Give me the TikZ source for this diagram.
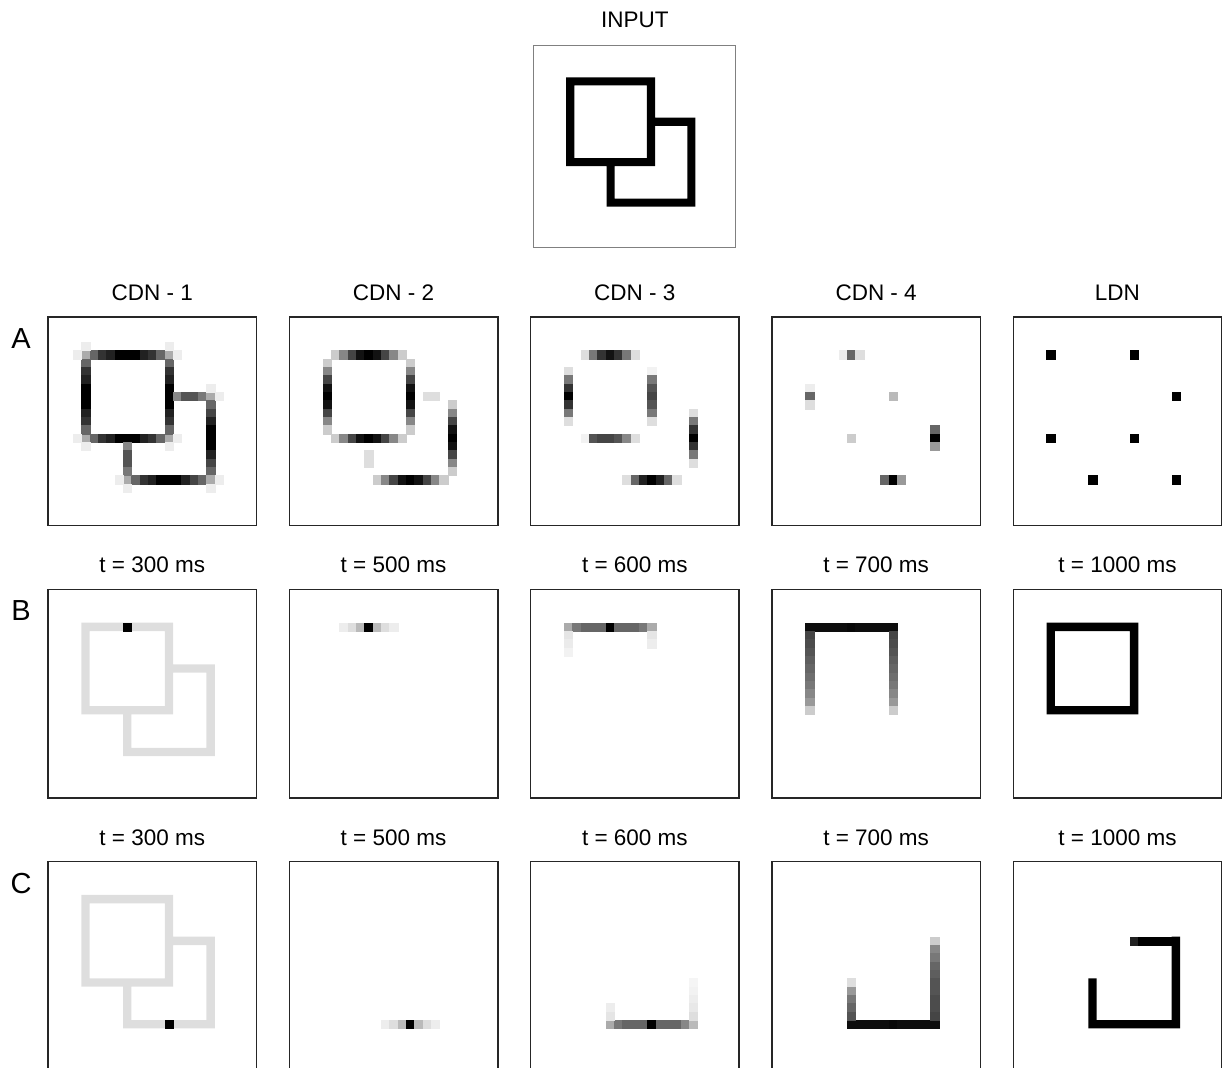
\documentclass[tikz,border=0pt]{standalone}
\usepackage{fontspec}
\setmainfont{Liberation Sans}
\usetikzlibrary{positioning, calc}
\newcommand{\cs}{0.1668cm}
\tikzset{
    panel/.style={rectangle, draw=black!85, line width=0.8pt, minimum size=4.17cm,
                  inner sep=0pt, outer sep=0pt},
    inpanel/.style={rectangle, draw=black!50, line width=0.5pt, minimum size=4.04cm,
                    inner sep=0pt, outer sep=0pt},
    cells/.style={shift={(#1.north west)}, x=\cs, y=-\cs},
    incells/.style={shift={(#1.north west)}, x=0.1616cm, y=-0.1616cm},
    pix/.style={fill=black!#1, draw=black!#1, line width=0.1pt},
    lbl/.style={font=\fontsize{12.8}{14}\selectfont, inner sep=0pt},
    rowlbl/.style={font=\fontsize{16.5}{18}\selectfont, inner sep=0pt},
}
% one cell, a run of cells along a row, a run of cells down a column
\newcommand{\pixel}[3]{\fill[pix=#3] (#1,#2) rectangle ++(1,1);}
\newcommand{\hrun}[3]{\foreach \k [count=\i from 0] in {#3} {\fill[pix=\k] ({#2+\i},#1) rectangle ++(1,1);}}
\newcommand{\vrun}[3]{\foreach \k [count=\i from 0] in {#3} {\fill[pix=\k] (#1,{#2+\i}) rectangle ++(1,1);}}
% the two squares of the input, as far as they show
\newcommand{\twosq}[1]{\fill[#1] (4,4) rectangle (15,5) (4,14) rectangle (15,15)
    (4,5) rectangle (5,14) (14,5) rectangle (15,14)
    (15,9) rectangle (20,10) (19,10) rectangle (20,20)
    (9,19) rectangle (19,20) (9,15) rectangle (10,19);}

\begin{document}
\begin{tikzpicture}[node distance=1.276cm and 0.656cm]

    \useasboundingbox (0,0) rectangle (24.44,-21.36);
    \clip (0,0) rectangle (24.44,-21.36);

    % panels, row by row
    \node[panel] (a1) at (3.045,-8.425) {};
    \node[panel, right=of a1] (a2) {};
    \node[panel, right=of a2] (a3) {};
    \node[panel, right=of a3] (a4) {};
    \node[panel, right=of a4] (a5) {};

    \node[panel, below=of a1] (b1) {};
    \node[panel, right=of b1] (b2) {};
    \node[panel, right=of b2] (b3) {};
    \node[panel, right=of b3] (b4) {};
    \node[panel, right=of b4] (b5) {};

    \node[panel, below=of b1] (c1) {};
    \node[panel, right=of c1] (c2) {};
    \node[panel, right=of c2] (c3) {};
    \node[panel, right=of c3] (c4) {};
    \node[panel, right=of c4] (c5) {};

    \node[inpanel, above=1.4cm of a3] (in) {};

    % titles
    \node[lbl, above=0.34cm of in] (inlbl) {INPUT};
    \node[lbl, above=0.32cm of a1] (ta1) {CDN - 1};
    \node[lbl, above=0.32cm of a2] (ta2) {CDN - 2};
    \node[lbl, above=0.32cm of a3] (ta3) {CDN - 3};
    \node[lbl, above=0.32cm of a4] (ta4) {CDN - 4};
    \node[lbl, above=0.32cm of a5] (ta5) {LDN};
    \foreach \p/\t in {1/300, 2/500, 3/600, 4/700, 5/1000} {
        \node[lbl, above=0.32cm of b\p] (tb\p) {t = \t\ ms};
        \node[lbl, above=0.32cm of c\p] (tc\p) {t = \t\ ms};
    }
    \node[rowlbl, anchor=north] (la) at ([xshift=-0.54cm, yshift=-0.22cm]a1.north west) {A};
    \node[rowlbl, anchor=north] (lb) at ([xshift=-0.54cm, yshift=-0.22cm]b1.north west) {B};
    \node[rowlbl, anchor=north] (lc) at ([xshift=-0.54cm, yshift=-0.22cm]c1.north west) {C};

    % input
    \begin{scope}[incells=in]
        \twosq{black}
    \end{scope}

    % CDN - 1
    \begin{scope}[cells=a1]
        \hrun{4}{4}{33,60,80,87,100,100,100,87,80,60,33}
        \hrun{14}{4}{33,60,80,87,100,100,100,87,80,60,33}
        \vrun{4}{5}{60,80,87,100,100,100,87,80,60}
        \vrun{14}{5}{60,80,87,100,100,100,87,80,60}
        \hrun{9}{15}{47,67,67,53,33}
        \vrun{19}{10}{60,73,87,100,100,100,87,73,60}
        \hrun{19}{9}{33,60,80,87,100,100,100,87,73,60,33}
        \vrun{9}{15}{47,67,67,53}
        \foreach \c/\r in {4/3, 3/4, 14/3, 15/4, 3/14, 4/15, 14/15, 15/14,
                           19/8, 20/9, 8/19, 9/20, 20/19, 19/20}
            {\pixel{\c}{\r}{7}}
    \end{scope}

    % CDN - 2
    \begin{scope}[cells=a2]
        \hrun{4}{5}{20,47,73,93,100,93,73,47,20}
        \hrun{14}{5}{20,47,73,93,100,93,73,47,20}
        \vrun{4}{5}{20,47,73,93,100,93,73,47,20}
        \vrun{14}{5}{20,47,73,93,100,93,73,47,20}
        \vrun{19}{10}{20,47,73,93,100,93,73,47,20}
        \hrun{19}{10}{20,47,73,93,100,93,73,47,20}
        \foreach \c/\r in {16/9, 17/9, 9/16, 9/17}
            {\pixel{\c}{\r}{13}}
    \end{scope}

    % CDN - 3
    \begin{scope}[cells=a3]
        \hrun{4}{6}{13,53,80,93,80,53,13}
        \vrun{4}{6}{13,53,80,100,80,53,13}
        \vrun{14}{6}{5,53,67,73,67,53,13}
        \hrun{14}{6}{5,67,73,73,67,47,13}
        \vrun{19}{11}{13,53,80,100,80,53,13}
        \hrun{19}{11}{13,60,87,100,87,60,13}
    \end{scope}

    % CDN - 4
    \begin{scope}[cells=a4]
        \hrun{4}{8}{7,60,13}
        \vrun{4}{8}{7,60,13}
        \pixel{14}{9}{27}
        \pixel{9}{14}{20}
        \vrun{19}{13}{60,100,40}
        \hrun{19}{13}{60,100,40}
    \end{scope}

    % LDN
    \begin{scope}[cells=a5]
        \foreach \c/\r in {4/4, 14/4, 19/9, 4/14, 14/14, 9/19, 19/19}
            {\pixel{\c}{\r}{100}}
    \end{scope}

    % row B: top edge of the first square
    \begin{scope}[cells=b1]
        \twosq{black!13}
        \pixel{9}{4}{100}
    \end{scope}
    \begin{scope}[cells=b2]
        \hrun{4}{6}{7,13,27,100,27,13,7}
    \end{scope}
    \begin{scope}[cells=b3]
        \hrun{4}{4}{33,53,60,60,60,100,60,60,60,53,33}
        \vrun{4}{5}{10,8,5}
        \vrun{14}{5}{10,7}
    \end{scope}
    \begin{scope}[cells=b4]
        \hrun{4}{4}{95,95,95,95,95,97,95,95,95,95,95}
        \vrun{4}{5}{73,70,67,63,60,57,53,47,40,20}
        \vrun{14}{5}{73,70,67,63,60,57,53,47,40,20}
    \end{scope}
    \begin{scope}[cells=b5]
        \fill[black, even odd rule] (4,4) rectangle (15,15) (5,5) rectangle (14,14);
    \end{scope}

    % row C: bottom edge of the second square
    \begin{scope}[cells=c1]
        \twosq{black!13}
        \pixel{14}{19}{100}
    \end{scope}
    \begin{scope}[cells=c2]
        \hrun{19}{11}{7,13,27,100,27,13,7}
    \end{scope}
    \begin{scope}[cells=c3]
        \hrun{19}{9}{33,53,60,60,60,100,60,60,60,47,27}
        \vrun{9}{17}{7,10}
        \vrun{19}{14}{4,5,7,9,13}
    \end{scope}
    \begin{scope}[cells=c4]
        \hrun{19}{9}{95,95,95,95,95,97,95,95,95,95,95}
        \vrun{9}{14}{13,40,53,60,67}
        \vrun{19}{9}{20,47,53,60,63,67,67,70,70,73}
    \end{scope}
    \begin{scope}[cells=c5]
        \hrun{9}{14}{87,100,100,100,100}
        \fill[black] (19,9) rectangle (20,20) (9,19) rectangle (19,20) (9,14) rectangle (10,19);
    \end{scope}

\end{tikzpicture}
\end{document}
